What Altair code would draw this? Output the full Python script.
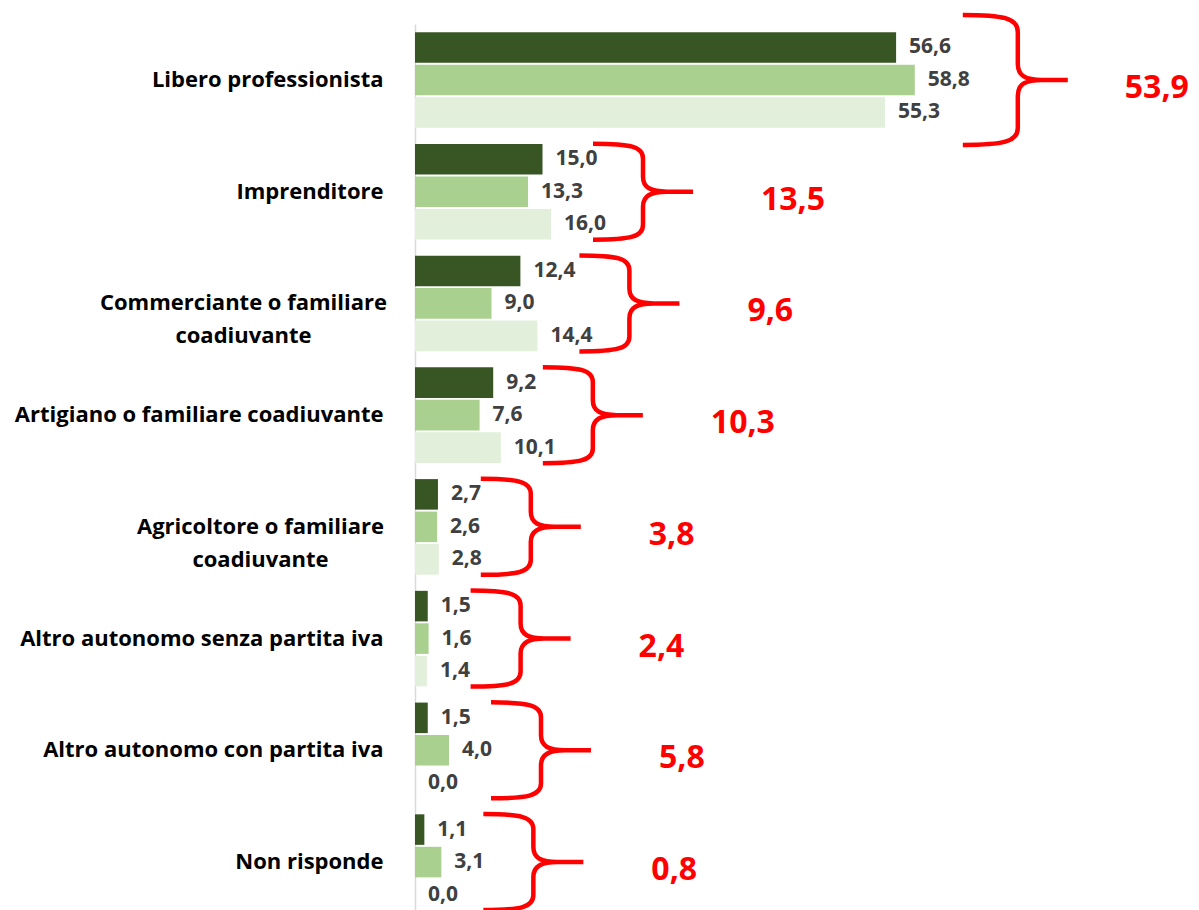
import altair as alt
import pandas as pd

# ---- data ----
categories = [
    "Libero professionista",
    "Imprenditore",
    "Commerciante o familiare coadiuvante",
    "Artigiano o familiare coadiuvante",
    "Agricoltore o familiare coadiuvante",
    "Altro autonomo senza partita iva",
    "Altro autonomo con partita iva",
    "Non risponde",
]
series_names = ["Serie 1", "Serie 2", "Serie 3"]
serie_1 = [56.6, 15.0, 12.4, 9.2, 2.7, 1.5, 1.5, 1.1]
serie_2 = [58.8, 13.3, 9.0, 7.6, 2.6, 1.6, 4.0, 3.1]
serie_3 = [55.3, 16.0, 14.4, 10.1, 2.8, 1.4, 0.0, 0.0]
totals = [53.9, 13.5, 9.6, 10.3, 3.8, 2.4, 5.8, 0.8]

colors = ["#375623", "#A9D08E", "#E2EFDA"]


def fmt(v):
    return f"{v:.1f}".replace(".", ",")


rows = []
for name, vals in zip(series_names, [serie_1, serie_2, serie_3]):
    for c, v in zip(categories, vals):
        rows.append({"categoria": c, "serie": name, "valore": v, "etichetta": fmt(v)})
df = pd.DataFrame(rows)

df_tot = pd.DataFrame({
    "categoria": categories,
    "massimo": [max(a, b, c) for a, b, c in zip(serie_1, serie_2, serie_3)],
    "totale": [fmt(t) for t in totals],
})

FONT = "Open Sans"
PX_PER_UNIT = 8.5
W = 776
H = 894

COMM = "Commerciante o familiare coadiuvante"
AGRI = "Agricoltore o familiare coadiuvante"
label_expr = (
    f"datum.label == '{COMM}' ? ['Commerciante o familiare', 'coadiuvante'] : "
    f"datum.label == '{AGRI}' ? ['Agricoltore o familiare', 'coadiuvante'] : datum.label"
)
t_comm = f"datum.value == '{COMM}'"
t_agri = f"datum.value == '{AGRI}'"

y_enc = alt.Y(
    "categoria:N",
    sort=categories,
    scale=alt.Scale(paddingInner=0.145, paddingOuter=0.073),
    axis=alt.Axis(
        title=None,
        ticks=False,
        domainColor="#D9D9D9",
        domainWidth=1.5,
        labelFont=FONT,
        labelFontWeight="bold",
        labelFontSize=22,
        labelColor="#000000",
        labelAlign={"condition": [{"test": t_comm, "value": "center"},
                                  {"test": t_agri, "value": "center"}],
                    "value": "right"},
        labelPadding={"condition": [{"test": t_comm, "value": 172},
                                    {"test": t_agri, "value": 155}],
                      "value": 32},
        labelLimit=0,
        labelLineHeight=33,
        labelExpr=label_expr,
    ),
)
x_scale = alt.Scale(domain=[0, W / PX_PER_UNIT], nice=False, zero=True)
yoff = alt.YOffset("serie:N", sort=series_names, scale=alt.Scale(paddingInner=0.06))

bars = alt.Chart(df).mark_bar().encode(
    y=y_enc,
    yOffset=yoff,
    x=alt.X("valore:Q", scale=x_scale, axis=None),
    color=alt.Color("serie:N", sort=series_names,
                    scale=alt.Scale(domain=series_names, range=colors), legend=None),
)

labels = alt.Chart(df).mark_text(
    align="left", baseline="middle", dx=13, font=FONT, fontWeight="bold",
    fontSize=21, color="#404040",
).encode(
    y=alt.Y("categoria:N", sort=categories),
    yOffset=yoff,
    x=alt.X("valore:Q"),
    text="etichetta:N",
)

brace_small = ("M 42 -48 C 80 -48 92 -45 92 -33 L 92 -15 C 92 -4 100 0 116 0 L 142 0 "
               "M 116 0 C 100 0 92 4 92 15 L 92 33 C 92 45 80 48 42 48")
brace_big = ("M 48 -65 C 88 -65 103 -62 103 -48 L 103 -16 C 103 -4 111 0 127 0 L 153 0 "
             "M 127 0 C 111 0 103 4 103 16 L 103 48 C 103 62 88 65 48 65")

braces = alt.Chart(df_tot).mark_point(
    filled=False, size=4, strokeWidth=4.5, color="#FF0000", opacity=1,
).encode(
    y=alt.Y("categoria:N", sort=categories),
    x=alt.X("massimo:Q"),
    shape=alt.condition(alt.datum.categoria == categories[0],
                        alt.value(brace_big), alt.value(brace_small)),
)

tot_text = alt.Chart(df_tot).mark_text(
    align="left", baseline="middle", dx=210, dy=8, font=FONT, fontWeight="bold",
    fontSize=32, color="#FF0000",
).encode(
    y=alt.Y("categoria:N", sort=categories),
    x=alt.X("massimo:Q"),
    text="totale:N",
)

chart = alt.layer(bars, labels, braces, tot_text).properties(
    width=W,
    height=H,
    padding={"left": 407, "top": 16, "right": 0, "bottom": 0},
    autosize=alt.AutoSizeParams(type="none"),
).configure_view(strokeWidth=0)

chart.save("out.html", embed_options={"renderer": "svg", "actions": False})
